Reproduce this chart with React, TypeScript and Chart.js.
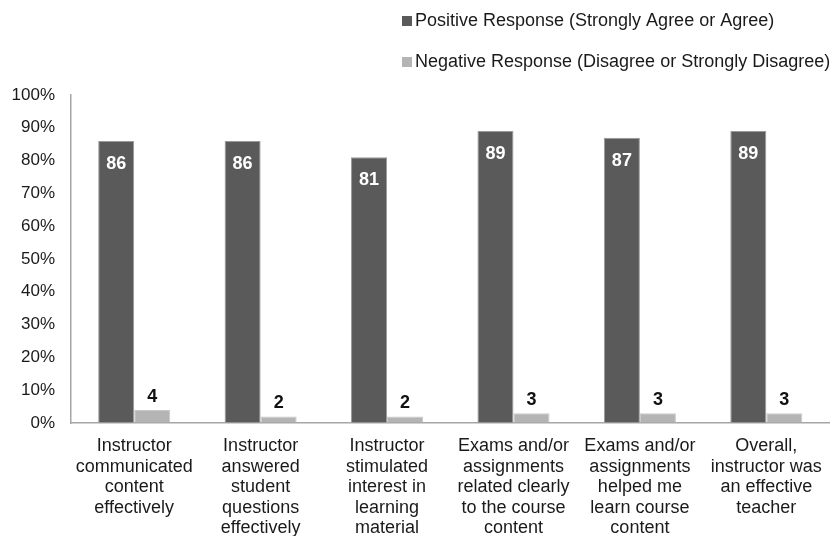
import React, { useEffect, useRef } from "react";
import { Chart, registerables } from "chart.js";

Chart.register(...registerables);

const categories: string[][] = [
  ["Instructor", "communicated", "content", "effectively"],
  ["Instructor", "answered", "student", "questions", "effectively"],
  ["Instructor", "stimulated", "interest in", "learning", "material"],
  ["Exams and/or", "assignments", "related clearly", "to the course", "content"],
  ["Exams and/or", "assignments", "helped me", "learn course", "content"],
  ["Overall,", "instructor was", "an effective", "teacher"],
];
const positiveValues = [86, 86, 81, 89, 87, 89];
const negativeValues = [4, 2, 2, 3, 3, 3];
const seriesNames = [
  "Positive Response (Strongly Agree or Agree)",
  "Negative Response (Disagree or Strongly Disagree)",
];
const seriesColors = ["#5a5a5a", "#b4b4b4"];

const FONT = "'Liberation Sans', Arial, sans-serif";

const labelPlugin = {
  id: "valueLabels",
  afterDatasetsDraw(chart: any) {
    const ctx = chart.ctx;
    ctx.save();
    ctx.font = `bold 18px ${FONT}`;
    ctx.textAlign = "center";
    ctx.textBaseline = "middle";
    chart.data.datasets.forEach((ds: any, di: number) => {
      const meta = chart.getDatasetMeta(di);
      meta.data.forEach((el: any, i: number) => {
        const v = ds.data[i];
        if (di === 0) {
          ctx.fillStyle = "#ffffff";
          ctx.fillText(String(v), el.x, el.y + 23);
        } else {
          ctx.fillStyle = "#111111";
          ctx.fillText(String(v), el.x, el.y - 13);
        }
      });
    });
    ctx.restore();
  },
};

const legendPlugin = {
  id: "customLegend",
  afterDraw(chart: any) {
    const ctx = chart.ctx;
    ctx.save();
    ctx.font = `18px ${FONT}`;
    ctx.textBaseline = "middle";
    ctx.textAlign = "left";
    const rows = [21, 62];
    seriesNames.forEach((name, i) => {
      const y = rows[i];
      ctx.fillStyle = seriesColors[i];
      ctx.fillRect(402, y - 5, 10, 10);
      ctx.fillStyle = "#1a1a1a";
      ctx.fillText(name, 415, y);
    });
    ctx.restore();
  },
};

export default function App() {
  const ref = useRef<HTMLCanvasElement | null>(null);
  useEffect(() => {
    if (!ref.current) return;
    const chart = new Chart(ref.current, {
      type: "bar",
      data: {
        labels: categories,
        datasets: [
          {
            label: seriesNames[0],
            data: positiveValues,
            backgroundColor: seriesColors[0],
            borderColor: "#9a9a9a",
            borderWidth: 1,
            categoryPercentage: 0.57,
            barPercentage: 1,
          },
          {
            label: seriesNames[1],
            data: negativeValues,
            backgroundColor: seriesColors[1],
            borderColor: "#c8c8c8",
            borderWidth: 1,
            categoryPercentage: 0.57,
            barPercentage: 1,
          },
        ],
      },
      options: {
        animation: false,
        responsive: true,
        maintainAspectRatio: false,
        layout: { padding: { top: 95, right: 2, left: 0, bottom: 0 } },
        plugins: {
          legend: { display: false },
          tooltip: { enabled: false },
        },
        scales: {
          x: {
            grid: { display: true, color: "transparent", drawTicks: false },
            border: { display: true, color: "#a6a6a6", width: 1.5 },
            ticks: {
              color: "#1a1a1a",
              font: { family: FONT, size: 18, lineHeight: 1.14 },
              padding: 13,
              maxRotation: 0,
              autoSkip: false,
            },
            afterFit(scale: any) {
              scale.height = 113;
            },
          },
          y: {
            min: 0,
            max: 100,
            grid: { display: true, color: "transparent", drawTicks: false },
            border: { display: true, color: "#a6a6a6", width: 1.5 },
            ticks: {
              stepSize: 10,
              color: "#1a1a1a",
              font: { family: FONT, size: 17 },
              padding: 16,
              callback: (v: any) => `${v}%`,
            },
            afterFit(scale: any) {
              scale.width = 71;
            },
          },
        },
      },
      plugins: [labelPlugin, legendPlugin],
    });
    return () => chart.destroy();
  }, []);
  return (
    <div style={{ position: "fixed", left: 0, top: 0, width: "100vw", height: "100vh", background: "#fff" }}>
      <canvas ref={ref} />
    </div>
  );
}
